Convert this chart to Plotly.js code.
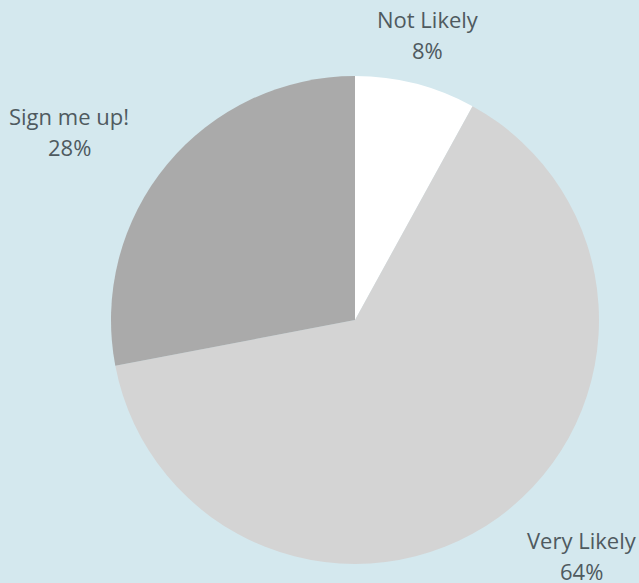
<!DOCTYPE html>
<html>
<head>
<meta charset="utf-8">
<script src="https://cdn.plot.ly/plotly-3.0.1.min.js"></script>
<style>html,body{margin:0;padding:0;background:#d4e8ee;}</style>
</head>
<body>
<div id="chart" style="width:639px;height:583px;"></div>
<script>
const labels = ["Not Likely", "Very Likely", "Sign me up!"];
const values = [8, 64, 28];
const colors = ["#ffffff", "#d4d4d4", "#aaaaaa"];

const W = 639, H = 583;
const margin = {l: 111, r: 40, t: 76, b: 19};
const fontFamily = "'Open Sans', 'Noto Sans', sans-serif";
const fontSize = 22;
const lineGap = 31;
const textColor = "#4f5a5f";

// Label placement derived from the data: each label block sits just outside its slice's mid-angle.
const plotW = W - margin.l - margin.r, plotH = H - margin.t - margin.b;
const cx = margin.l + plotW / 2, cy = margin.t + plotH / 2;
const radius = Math.min(plotW, plotH) / 2;
const labelR = radius + 49;
const total = values.reduce((a, b) => a + b, 0);
const ctx = document.createElement("canvas").getContext("2d");
ctx.font = fontSize + "px " + fontFamily;
const annotations = [];
let cum = 0;
values.forEach((v, i) => {
  const mid = (cum + v / 2) / total * 2 * Math.PI;
  cum += v;
  const s = Math.sin(mid), c = Math.cos(mid);
  const lines = [labels[i], Math.round(v / total * 100) + "%"];
  const blockW = Math.max(...lines.map(t => ctx.measureText(t).width));
  let px = cx + labelR * s;
  const py = cy - labelR * c - 2;
  if (s > 0.4) px += blockW / 2;
  else if (s < -0.4) px -= blockW / 2;
  lines.forEach((t, k) => {
    const ly = py + (k - 0.5) * lineGap;
    annotations.push({
      x: (px - margin.l) / plotW,
      y: 1 - (ly - margin.t) / plotH,
      xref: "paper", yref: "paper",
      xanchor: "center", yanchor: "middle",
      showarrow: false,
      text: t,
      font: {family: fontFamily, size: fontSize, color: textColor}
    });
  });
});

Plotly.newPlot("chart", [{
  type: "pie",
  labels: labels,
  values: values,
  sort: false,
  direction: "clockwise",
  rotation: 0,
  marker: {colors: colors, line: {width: 0}},
  textinfo: "none",
  hoverinfo: "none"
}], {
  width: W,
  height: H,
  paper_bgcolor: "#d4e8ee",
  plot_bgcolor: "#d4e8ee",
  showlegend: false,
  margin: margin,
  font: {family: fontFamily, color: textColor, size: fontSize},
  annotations: annotations
}, {displayModeBar: false, staticPlot: true});
</script>
</body>
</html>
